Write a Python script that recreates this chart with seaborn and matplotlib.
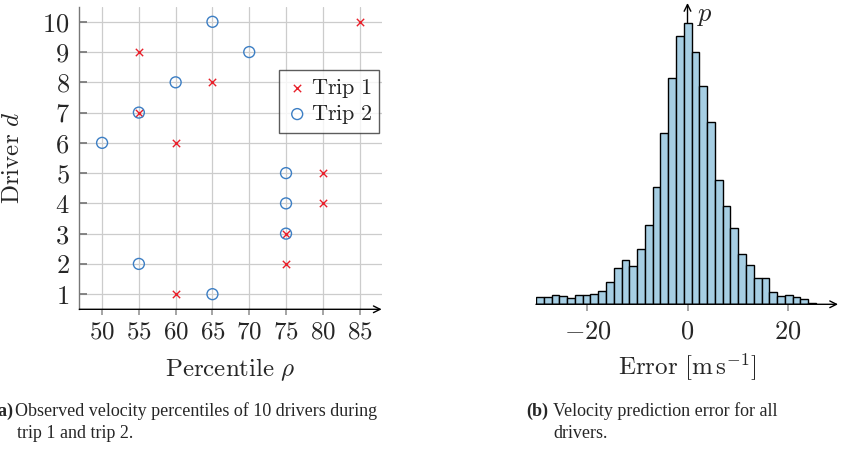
import numpy as np
import pandas as pd
import matplotlib
matplotlib.use("Agg")
import matplotlib.pyplot as plt
import matplotlib.transforms as mtransforms
from matplotlib.ticker import FuncFormatter
import seaborn as sns

# left panel: percentile of each driver, trip 1 and trip 2
drivers = [1, 2, 3, 4, 5, 6, 7, 8, 9, 10]
trip1_pct = [60, 75, 75, 80, 80, 60, 55, 65, 55, 85]
trip2_pct = [65, 55, 75, 75, 75, 50, 55, 60, 70, 65]

# right panel: histogram of prediction error (bar heights)
err_heights = [21, 21, 27, 24, 18, 27, 27, 30, 39, 67, 110, 132, 116, 166, 237, 353,
               513, 678, 806, 843, 758, 655, 547, 374, 296, 228, 150, 117, 80, 78,
               36, 26, 28, 22, 17, 3]
err_lo, err_hi = -30.3, 25.7
err_ticks = [-20, 0, 20]

sns.set_theme(style="white")
plt.rcParams['font.family'] = ['cmr10', 'DejaVu Serif']
plt.rcParams['mathtext.fontset'] = 'cm'
plt.rcParams['axes.formatter.use_mathtext'] = True
plt.rcParams['axes.unicode_minus'] = False

red = "#e8202a"
blue = "#3c7ec4"

fig = plt.figure(figsize=(8.47, 4.51), dpi=100)
ax1 = fig.add_axes([0.0936, 0.3142, 0.357, 0.671])
ax2 = fig.add_axes([0.6328, 0.3253, 0.3566, 0.668])

mathfmt = FuncFormatter(lambda v, p: f"${v:g}$")

# ---------------- left: scatter ----------------
df1 = pd.DataFrame({"pct": trip1_pct, "driver": drivers})
df2 = pd.DataFrame({"pct": trip2_pct, "driver": drivers})
sns.scatterplot(data=df1, x="pct", y="driver", marker="x", color=red, s=28,
                linewidth=1.0, ax=ax1, label=r"$\mathrm{Trip\ 1}$", zorder=3)
sns.scatterplot(data=df2, x="pct", y="driver", marker="o", facecolors="none",
                edgecolor=blue, s=62, linewidth=1.0, ax=ax1, label=r"$\mathrm{Trip\ 2}$", zorder=3)

ax1.set_xlim(46.9, 88)
ax1.set_ylim(0.5, 10.5)
ax1.set_xticks([50, 55, 60, 65, 70, 75, 80, 85])
ax1.set_yticks(drivers)
ax1.xaxis.set_major_formatter(mathfmt)
ax1.yaxis.set_major_formatter(mathfmt)
ax1.grid(True, color="#cccccc", lw=0.9)
ax1.set_axisbelow(True)
for s in ["top", "right", "bottom"]:
    ax1.spines[s].set_visible(False)
ax1.spines["left"].set_color("#777777")
ax1.spines["left"].set_linewidth(1.0)
ax1.tick_params(axis="x", direction="out", length=4, color="#999999", pad=5, labelsize=18)
ax1.tick_params(axis="y", direction="in", length=6, color="#777777", pad=7, labelsize=19)
ax1.tick_params(bottom=True, left=True)
ax1.annotate("", xy=(1.0, 0), xytext=(0, 0), xycoords="axes fraction",
             arrowprops=dict(arrowstyle="->", lw=1.0, color="black",
                             shrinkA=0, shrinkB=0))
ax1.set_xlabel(r"$\mathrm{Percentile}\ \rho$", fontsize=18)
ax1.set_ylabel(r"$\mathrm{Driver}\ d$", fontsize=18)
ax1.xaxis.set_label_coords(0.5, -0.2)
ax1.xaxis.label.set_va("center")
ax1.yaxis.set_label_coords(-0.219, 0.5)
ax1.yaxis.label.set_va("center")
leg = ax1.legend(loc="upper right", bbox_to_anchor=(0.991, 0.791), fontsize=16,
                 frameon=True, fancybox=False, handletextpad=0.1, handlelength=1.0,
                 borderpad=0.3, labelspacing=0.15, borderaxespad=0)
leg.get_frame().set_edgecolor("#333333")
leg.get_frame().set_linewidth(1.0)

# ---------------- right: histogram ----------------
nb = len(err_heights)
edges = np.linspace(err_lo, err_hi, nb + 1)
centers = (edges[:-1] + edges[1:]) / 2
dfe = pd.DataFrame({"err": centers, "h": err_heights})
sns.histplot(data=dfe, x="err", weights="h", bins=nb, binrange=(err_lo, err_hi), ax=ax2,
             color="#a6cee3", alpha=1, edgecolor="black", linewidth=1.0, zorder=2)
ax2.set_xlim(err_lo, 30.1)
ax2.set_ylim(0, 904)
ax2.set_xticks(err_ticks)
ax2.set_yticks([])
ax2.xaxis.set_major_formatter(mathfmt)
for s in ax2.spines.values():
    s.set_visible(False)
ax2.tick_params(axis="x", direction="out", length=5, color="#999999", pad=6,
                labelsize=19, bottom=True)
ax2.set_ylabel("")
ax2.annotate("", xy=(1.0, 0), xytext=(0, 0), xycoords="axes fraction",
             arrowprops=dict(arrowstyle="->", lw=1.0, color="black",
                             shrinkA=0, shrinkB=0))
trans = mtransforms.blended_transform_factory(ax2.transData, ax2.transAxes)
ax2.annotate("", xy=(0, 1.0), xytext=(0, 0), xycoords=trans,
             arrowprops=dict(arrowstyle="->", lw=1.0, color="black",
                             shrinkA=0, shrinkB=0), zorder=1)
ax2.text(1.8, 0.955, r"$p$", transform=trans, fontsize=19, ha="left", va="center")
ax2.set_xlabel(r"$\mathrm{Error}\ [\mathrm{m\,s^{-1}}]$", fontsize=18)
ax2.xaxis.set_label_coords(0.5, -0.21)
ax2.xaxis.label.set_va("center")

# ---------------- captions ----------------
cap = dict(family="Liberation Serif", fontsize=13, va="center")
fig.text(13 / 847, 1 - 411 / 451, "(a)", ha="right", weight="bold", **cap)
fig.text(15 / 847, 1 - 411 / 451, "Observed velocity percentiles of 10 drivers during", **cap)
fig.text(17 / 847, 1 - 434 / 451, "trip 1 and trip 2.", **cap)
fig.text(526 / 847, 1 - 411 / 451, "(b)", weight="bold", **cap)
fig.text(553 / 847, 1 - 411 / 451, "Velocity prediction error for all", **cap)
fig.text(553 / 847, 1 - 434 / 451, "drivers.", **cap)

fig.savefig("out.png", dpi=100)
